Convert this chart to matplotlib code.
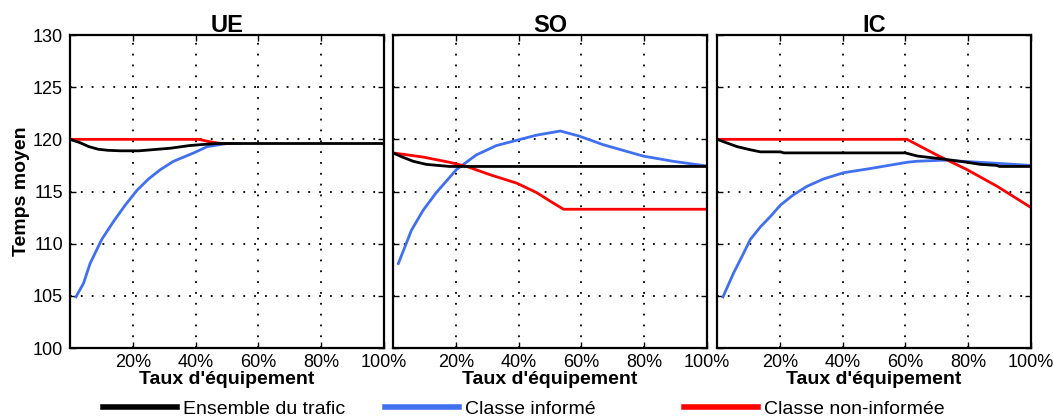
import matplotlib.pyplot as plt
import numpy as np

plt.rcParams['font.family'] = ['Liberation Sans', 'DejaVu Sans']

titles = ['UE', 'SO', 'IC']
labels = ['Ensemble du trafic', 'Classe informé', 'Classe non-informée']

# UE
ue_x_total = [0, 3, 6, 9, 12, 16, 22, 26, 32, 38, 42, 47, 55, 100]
ue_total = [120.0, 119.7, 119.3, 119.05, 118.95, 118.9, 118.9, 119.0, 119.15, 119.4, 119.5, 119.6, 119.6, 119.6]
ue_x_inf = [1.9, 4.3, 6.4, 10.1, 13.8, 17.6, 21.3, 25, 28.8, 33, 39.4, 43.7, 50, 54]
ue_inf = [104.9, 106.2, 108.1, 110.4, 112.1, 113.7, 115.1, 116.2, 117.1, 117.9, 118.7, 119.3, 119.6, 119.6]
ue_x_non = [0, 41, 44, 48, 51]
ue_non = [120.0, 120.0, 119.8, 119.6, 119.6]

# SO
so_x_total = [0, 3, 6.4, 10.6, 18, 30, 100]
so_total = [118.7, 118.3, 117.9, 117.6, 117.4, 117.4, 117.4]
so_x_inf = [1.7, 5.9, 9.6, 13.8, 20.2, 26.5, 32.9, 39.3, 45.7, 53.3, 59.4, 66.8, 79.6, 89.1, 99.8]
so_inf = [108.1, 111.3, 113.2, 114.9, 117.1, 118.5, 119.4, 119.9, 120.4, 120.8, 120.3, 119.5, 118.4, 117.9, 117.45]
so_x_non = [0, 9.6, 18, 23.5, 31, 39.4, 45.7, 51, 54.3, 100]
so_non = [118.7, 118.3, 117.8, 117.4, 116.6, 115.8, 114.9, 113.9, 113.3, 113.3]

# IC
ic_x_total = [0, 6.4, 10.6, 13.8, 20.2, 21.3, 60, 63.8, 72.3, 79.6, 83.9, 89.1, 90, 100]
ic_total = [120.0, 119.3, 119.0, 118.8, 118.8, 118.7, 118.7, 118.4, 118.1, 117.8, 117.6, 117.5, 117.4, 117.4]
ic_x_inf = [1.9, 5.3, 8.5, 10.6, 13.8, 17.0, 20.2, 24.4, 28.7, 33.9, 40.3, 48.8, 60.5, 63.7, 72.2, 89.2, 99.8]
ic_inf = [104.9, 107.2, 109.1, 110.4, 111.6, 112.6, 113.7, 114.7, 115.5, 116.2, 116.8, 117.2, 117.8, 117.9, 118.0, 117.7, 117.5]
ic_x_non = [0, 60.5, 70, 79.6, 89.2, 99.8]
ic_non = [120.0, 120.0, 118.5, 117.1, 115.5, 113.5]

series = [
    (ue_x_total, ue_total, ue_x_inf, ue_inf, ue_x_non, ue_non),
    (so_x_total, so_total, so_x_inf, so_inf, so_x_non, so_non),
    (ic_x_total, ic_total, ic_x_inf, ic_inf, ic_x_non, ic_non),
]

fig = plt.figure(figsize=(10.53, 4.16), dpi=100)
lefts = [70, 393, 717]
blue = '#4070f0'

for i, (xt, yt, xi, yi, xn, yn) in enumerate(series):
    ax = fig.add_axes([lefts[i] / 1053, 68 / 416, 314 / 1053, 313 / 416])
    l2, = ax.plot(xi, yi, color=blue, lw=2)
    l3, = ax.plot(xn, yn, color='red', lw=2)
    l1, = ax.plot(xt, yt, color='black', lw=2)
    ax.set_xlim(0, 100)
    ax.set_ylim(100, 130)
    ax.set_xticks([20, 40, 60, 80, 100])
    ax.set_xticklabels(['20%', '40%', '60%', '80%', '100%'])
    ax.set_yticks(np.arange(100, 131, 5))
    if i > 0:
        ax.set_yticklabels([])
    else:
        ax.set_ylabel('Temps moyen', fontsize=14, fontweight='bold', labelpad=2)
    ax.grid(True, color='black', linestyle=(0, (1, 5)), linewidth=1.3)
    ax.tick_params(direction='in', labelsize=13, length=4, width=1,
                   top=True, right=True)
    ax.tick_params(axis='x', pad=4)
    ax.tick_params(axis='y', pad=5)
    for s in ax.spines.values():
        s.set_linewidth(1.6)
    ax.set_title(titles[i], fontsize=17, fontweight='bold', pad=2)
    ax.set_xlabel("Taux d'équipement", fontsize=14, fontweight='bold', labelpad=0)

# one legend entry per position, as in the original
handles = [l1, l2, l3]
leg_x = [103, 385, 684]
for h, lab, x in zip(handles, labels, leg_x):
    leg = fig.legend([h], [lab], loc='center left', bbox_to_anchor=(x / 1053, 7 / 416),
                     frameon=False, fontsize=14, handlelength=3.8, handletextpad=0.3,
                     borderpad=0, borderaxespad=0)
    for lh in leg.get_lines():
        lh.set_linewidth(4)

fig.savefig('out.png', dpi=100)
